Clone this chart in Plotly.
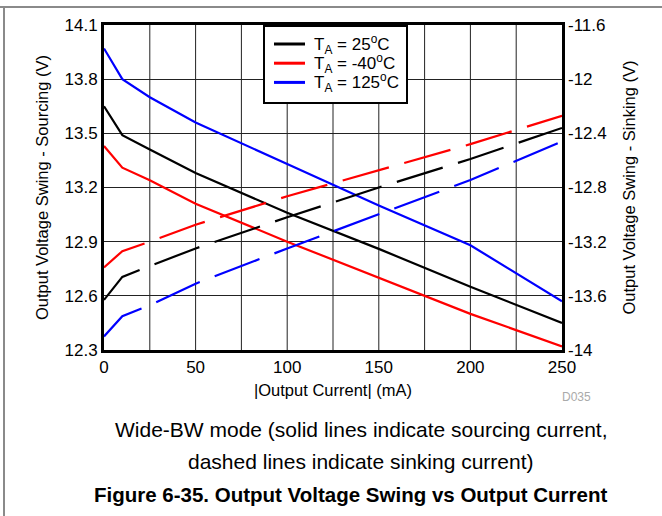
import plotly.graph_objects as go

current_ma = [0, 10, 25, 50, 100, 150, 200, 250]

source_25 = [13.65, 13.49, 13.41, 13.28, 13.06, 12.86, 12.65, 12.45]
source_m40 = [13.43, 13.31, 13.24, 13.11, 12.90, 12.70, 12.50, 12.32]
source_125 = [13.97, 13.80, 13.70, 13.56, 13.33, 13.10, 12.88, 12.57]

sink_25 = [-13.63, -13.46, -13.38, -13.25, -13.02, -12.80, -12.59, -12.36]
sink_m40 = [-13.39, -13.27, -13.20, -13.075, -12.865, -12.67, -12.48, -12.27]
sink_125 = [-13.90, -13.75, -13.67, -13.51, -13.25, -13.00, -12.745, -12.46]

names = ["T<sub>A</sub> = 25<sup>o</sup>C", "T<sub>A</sub> = -40<sup>o</sup>C", "T<sub>A</sub> = 125<sup>o</sup>C"]
colors = ["#000000", "#ff0000", "#0000ff"]

left_ticks = [12.3, 12.6, 12.9, 13.2, 13.5, 13.8, 14.1]
right_ticks = [-14, -13.6, -13.2, -12.8, -12.4, -12, -11.6]
x_ticks = [0, 50, 100, 150, 200, 250]
x_grid = [25, 50, 75, 100, 125, 150, 175, 200, 225]

fig = go.Figure()
for name, col, ys in zip(names, colors, [source_25, source_m40, source_125]):
    fig.add_trace(go.Scatter(x=current_ma, y=ys, mode="lines", name=name, showlegend=False,
                             line=dict(color=col, width=2.2), yaxis="y"))
for name, col, ys in zip(names, colors, [sink_25, sink_m40, sink_125]):
    fig.add_trace(go.Scatter(x=current_ma, y=ys, mode="lines", name=name, showlegend=False,
                             line=dict(color=col, width=2.2, dash="48px,16px"), yaxis="y2"))

font = "Liberation Sans, Arial, sans-serif"
L, R, T, B = 104, 100, 25, 166
W, H = 662, 516
pw, ph = W - L - R, H - T - B

def px(x):
    return (x - L) / pw

def py(y):
    return (H - B - y) / ph

fig.update_layout(
    width=W, height=H,
    margin=dict(l=L, r=R, t=T, b=B, pad=0),
    paper_bgcolor="white", plot_bgcolor="white",
    font=dict(family=font, size=17, color="black"),
    showlegend=False,
    xaxis=dict(range=[0, 250], tickmode="array", tickvals=x_ticks,
               showgrid=False,
               showline=True, linecolor="black", linewidth=3, mirror=True,
               ticks="", zeroline=False,
               title=dict(text="|Output Current| (mA)", font=dict(size=16.5), standoff=9),
               tickfont=dict(size=17)),
    yaxis=dict(range=[12.3, 14.1], tickmode="array", tickvals=left_ticks,
               ticktext=[f"{v:.1f}" for v in left_ticks],
               showgrid=True, gridcolor="#222", gridwidth=1,
               showline=True, linecolor="black", linewidth=3, mirror=True,
               ticks="", zeroline=False,
               title=dict(text="Output Voltage Swing - Sourcing (V)", font=dict(size=16.5), standoff=12),
               tickfont=dict(size=17)),
    yaxis2=dict(range=[-14, -11.6], tickmode="array", tickvals=right_ticks,
                ticktext=[f"{v:g}" for v in right_ticks],
                overlaying="y", side="right", showgrid=False, zeroline=False, ticks="",
                showline=False, ticklabelstandoff=5,
                title=dict(text="Output Voltage Swing - Sinking (V)", font=dict(size=16.5), standoff=17),
                tickfont=dict(size=17)),
)

# vertical gridlines every 25 mA
for xv in x_grid:
    fig.add_shape(type="line", xref="x", yref="paper", x0=xv, x1=xv, y0=0, y1=1,
                  line=dict(color="#222", width=1), layer="below")

# legend box (drawn manually to match the compact reference legend)
fig.add_shape(type="rect", xref="paper", yref="paper", x0=px(264), x1=px(407), y0=py(26), y1=py(103),
              line=dict(color="black", width=2), fillcolor="white", layer="above")
for i, (name, col) in enumerate(zip(names, colors)):
    yy = 44 + 19.2 * i
    fig.add_shape(type="line", xref="paper", yref="paper", x0=px(274), x1=px(305), y0=py(yy), y1=py(yy),
                  line=dict(color=col, width=3), layer="above")
    fig.add_annotation(text=name, xref="paper", yref="paper", x=px(312), y=py(yy),
                       xanchor="left", yanchor="middle", showarrow=False,
                       font=dict(size=17, color="black", family=font))

# frame lines
fig.add_shape(type="line", xref="paper", yref="paper", x0=px(0), x1=px(662), y0=py(7), y1=py(7),
              line=dict(color="#8a8a8a", width=2))
fig.add_shape(type="line", xref="paper", yref="paper", x0=px(4), x1=px(4), y0=py(7), y1=py(520),
              line=dict(color="#8a8a8a", width=2))

def note(text, x, y, size, color="black"):
    fig.add_annotation(text=text, xref="paper", yref="paper", x=px(x), y=py(y),
                       xanchor="center", yanchor="middle", showarrow=False,
                       font=dict(size=size, color=color, family=font))

note("D035", 576, 397, 12, "#aaaaaa")
note("Wide-BW mode (solid lines indicate sourcing current,", 361, 429, 21)
note("dashed lines indicate sinking current)", 361, 461, 21)
note("<b>Figure 6-35. Output Voltage Swing vs Output Current</b>", 350, 494, 20.5)

fig.write_html("out.html", config={"displayModeBar": False},
               post_script="document.body.style.margin='0px';document.body.style.padding='0px';")
